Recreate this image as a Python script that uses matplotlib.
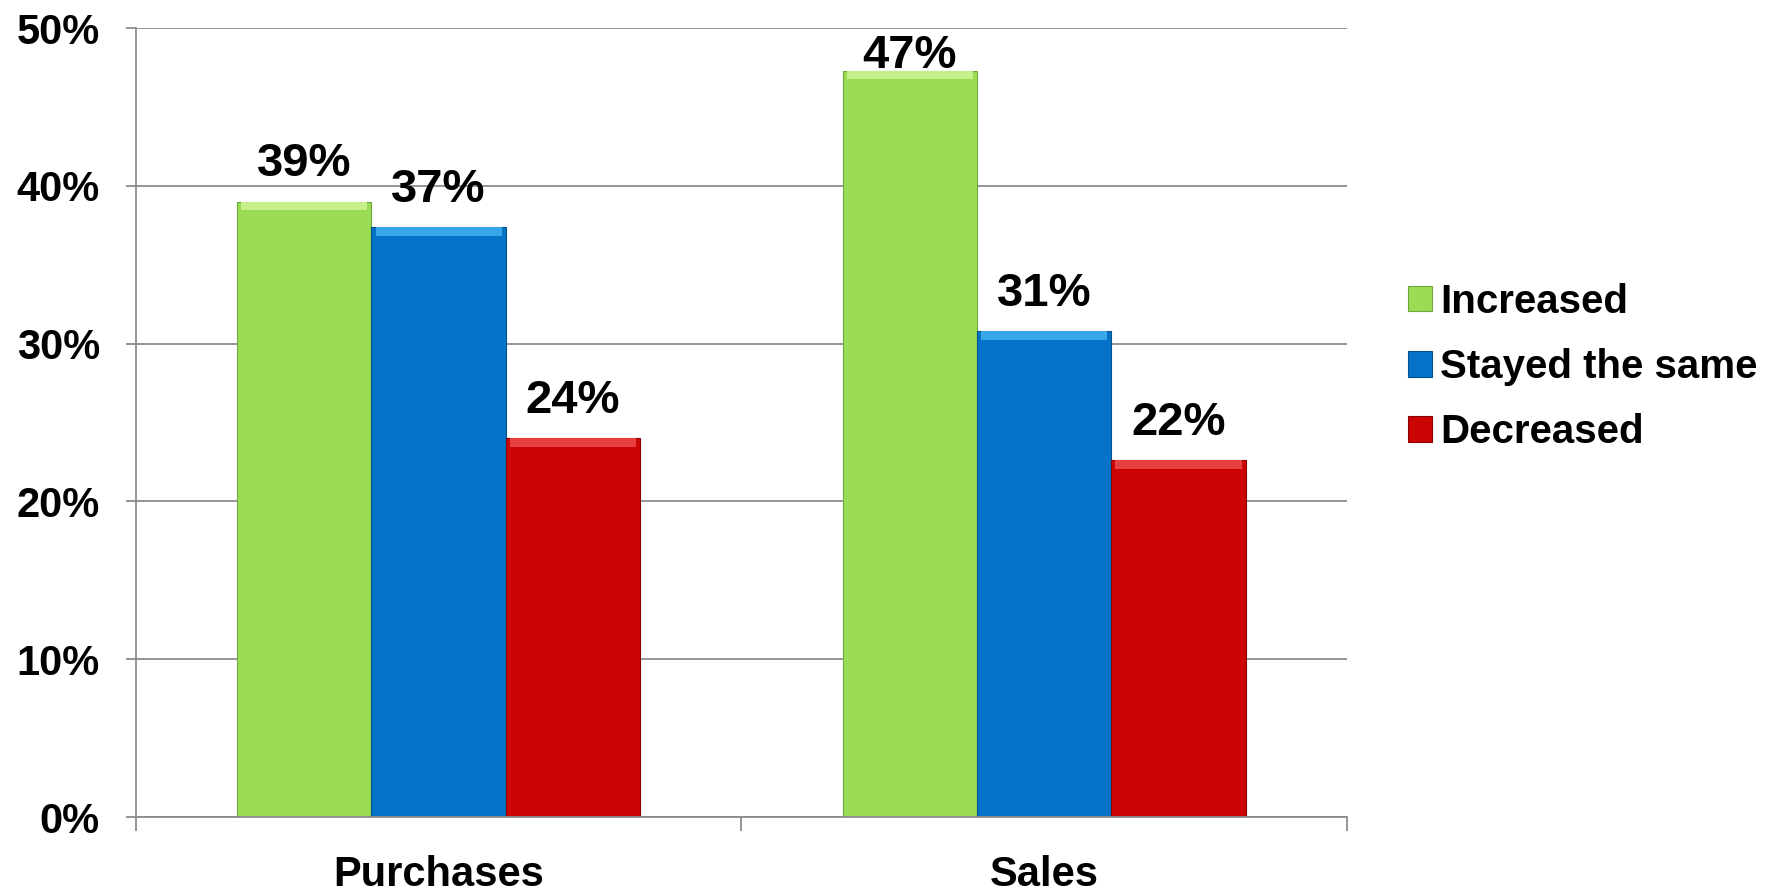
import matplotlib
matplotlib.use("Agg")
import matplotlib.pyplot as plt
import numpy as np

categories = ["Purchases", "Sales"]
series_names = ["Increased", "Stayed the same", "Decreased"]
increased = [39.0, 47.3]
stayed = [37.4, 30.8]
decreased = [24.0, 22.6]
value_labels = [["39%", "47%"], ["37%", "31%"], ["24%", "22%"]]
yticks = [0, 10, 20, 30, 40, 50]
ytick_labels = ["0%", "10%", "20%", "30%", "40%", "50%"]

colors = ["#9ADC55", "#0574C8", "#CC0404"]
top_colors = ["#C8F08A", "#3AA6EA", "#E84040"]
edge_colors = ["#6FA83A", "#04518C", "#8A0202"]

plt.rcParams['font.family'] = ['Liberation Sans', 'DejaVu Sans']

fig = plt.figure(figsize=(17.75, 8.93), dpi=100)
ax = fig.add_axes([0.0766, 0.085, 0.6822, 0.8836])

x = np.arange(len(categories))
width = 0.222
offsets = [-width, 0, width]
series = [increased, stayed, decreased]

ymax = 50
ax.set_ylim(0, ymax)
ax.set_xlim(-0.5, 1.5)
ax.set_yticks(yticks)
ax.set_yticklabels(ytick_labels)
ax.yaxis.grid(True, color="#8C8C8C", linewidth=1.3)
ax.set_axisbelow(True)

label_gap = 1.6        # data units between bar top and label baseline
label_height = 2.55    # approximate label height in data units (for clamping inside plot)

for vals, off, c, tc, ec, labs, name in zip(series, offsets, colors, top_colors, edge_colors, value_labels, series_names):
    ax.bar(x + off, vals, width, color=c, edgecolor=ec, linewidth=0.8, label=name, zorder=2)
    strip = 0.55
    ax.bar(x + off, [strip] * len(vals), width * 0.94, bottom=np.array(vals) - strip,
           color=tc, linewidth=0, zorder=3)
    for xi, v, lab in zip(x + off, vals, labs):
        ypos = min(v + label_gap, ymax - label_height)
        ax.text(xi, ypos, lab, ha="center", va="baseline",
                fontsize=34, fontweight="bold", zorder=4)

for s in ["top", "right"]:
    ax.spines[s].set_visible(False)
for s in ["left", "bottom"]:
    ax.spines[s].set_color("#8C8C8C")
    ax.spines[s].set_linewidth(1.3)

ax.set_xticks(x)
ax.set_xticklabels(categories)
ax.set_xticks([-0.5, 0.5, 1.5], minor=True)
ax.tick_params(axis="x", which="major", length=0, pad=27, labelsize=30)
ax.tick_params(axis="x", which="minor", length=10, width=1.3, color="#8C8C8C", direction="out")
ax.tick_params(axis="y", length=7, width=1.3, color="#8C8C8C", pad=19, labelsize=30)
for lab in ax.get_xticklabels() + ax.get_yticklabels():
    lab.set_fontweight("bold")

handles, labels = ax.get_legend_handles_labels()
leg = fig.legend(handles, labels, loc="center left",
                 bbox_to_anchor=(1388 / 1775, 1 - 367 / 893),
                 frameon=False, prop={"weight": "bold", "size": 29},
                 handlelength=0.6, handleheight=0.6, handletextpad=0.2,
                 labelspacing=0.68, borderpad=0)

fig.savefig("out.png", dpi=100)
